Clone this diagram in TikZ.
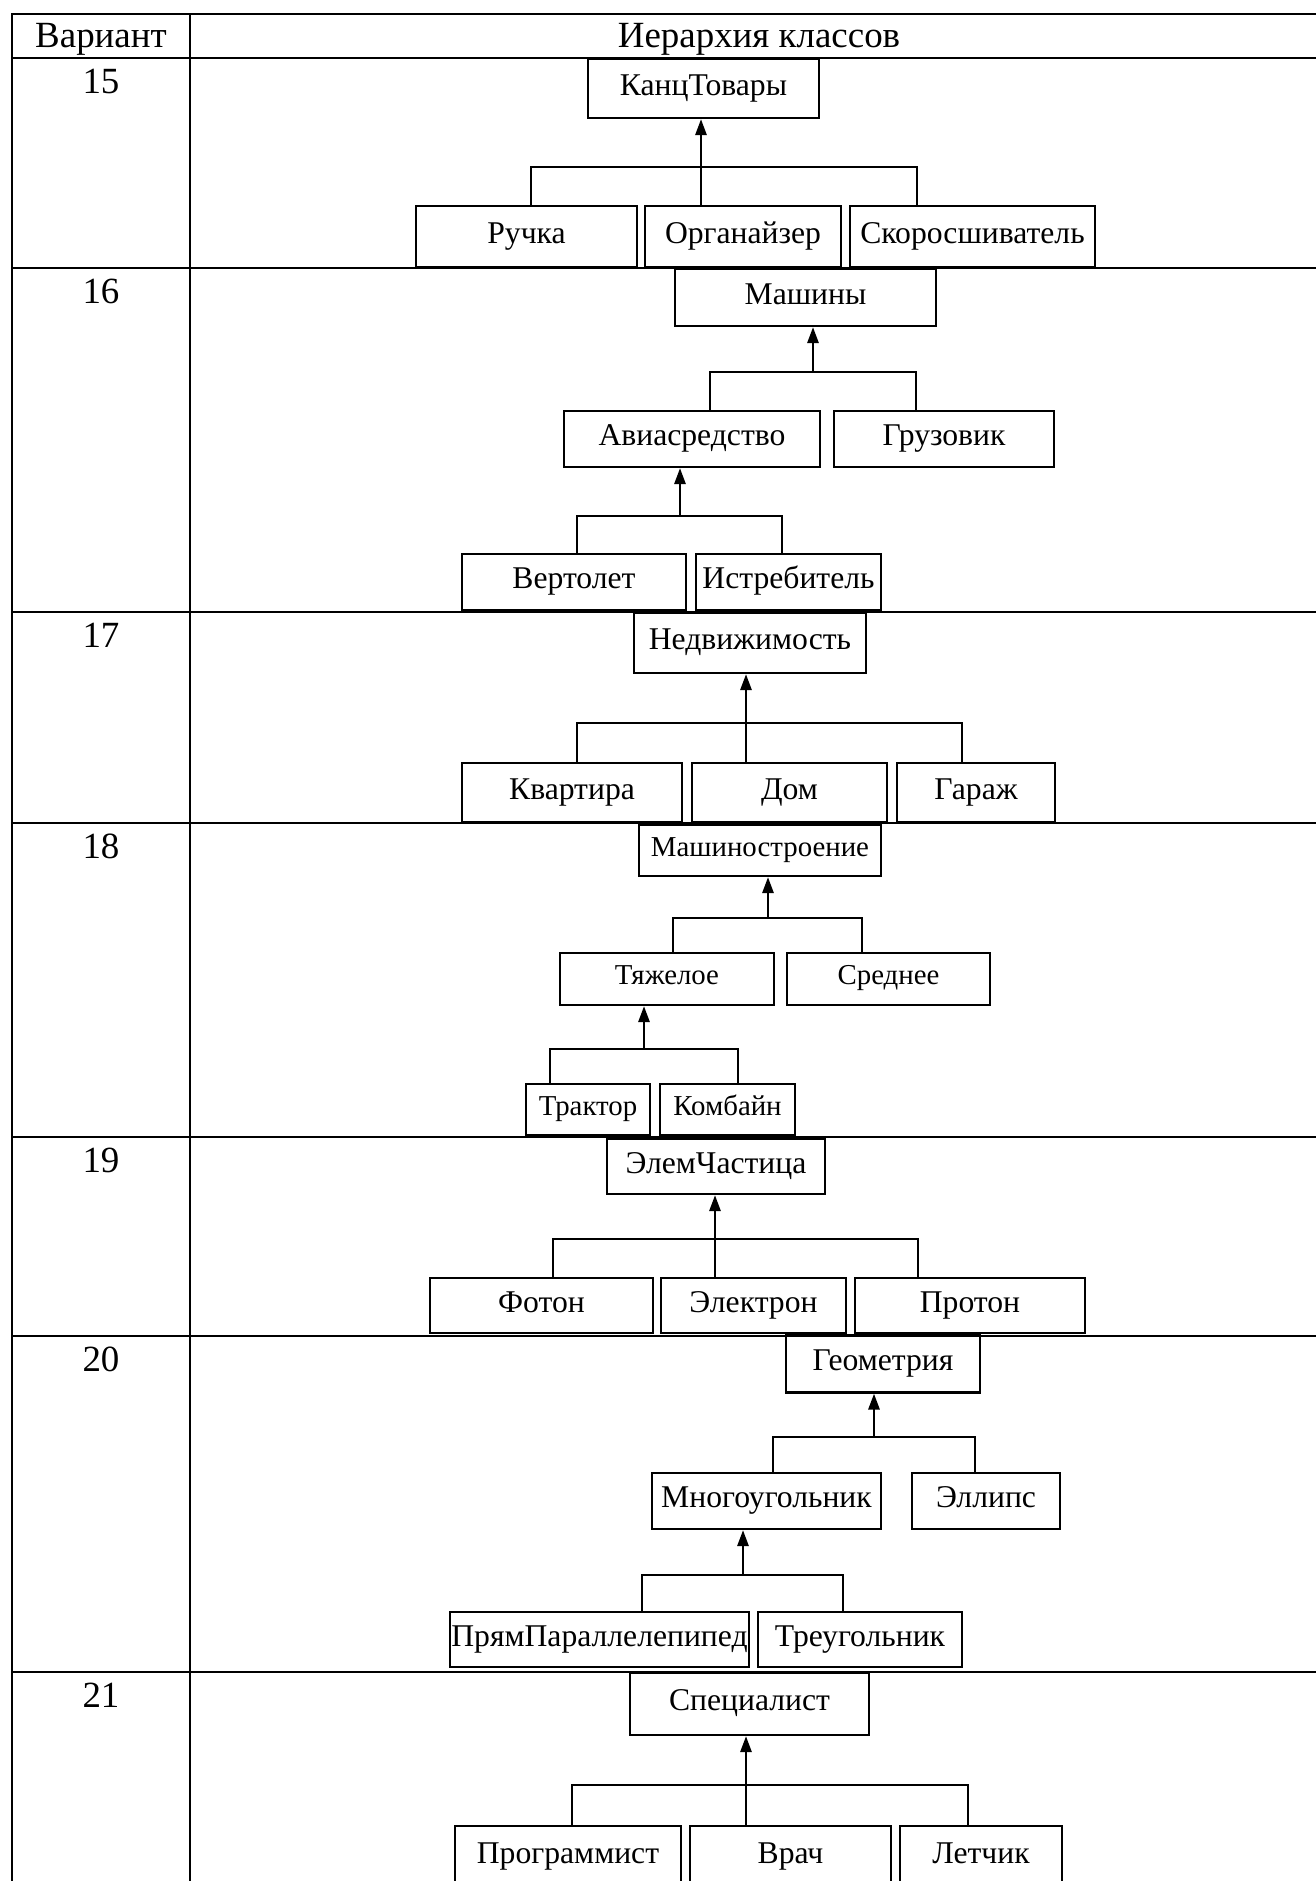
\documentclass[tikz,border=0pt]{standalone}
\usepackage{fontspec}
\setmainfont{Liberation Serif}
\usetikzlibrary{arrows.meta}

\begin{document}
\begin{tikzpicture}[x=0.01cm, y=-0.01cm,
    cell/.style={font=\fontsize{10.5}{12}\selectfont, anchor=base, inner sep=0pt},
    cls/.style={draw, line width=0.7pt, inner sep=0pt, text height=6pt, text depth=2.3pt,
        font=\fontsize{9}{10}\selectfont},
    link/.style={line width=0.6pt},
    inh/.style={line width=0.6pt, -{Triangle[length=4.5pt,width=3.2pt]}}]
    \clip (0,0) rectangle (1316,1881);
    \fill[white] (0,0) rectangle (1316,1881);

    % table
    \draw[line width=0.8pt] (1316,14) -- (12,14) -- (12,1881);
    \draw[line width=0.8pt] (190,14) -- (190,1881);
    \foreach \y in {58,268,612,823,1137,1336,1672}
        \draw[line width=0.8pt] (12,\y) -- (1316,\y);
    \node[cell] (hvar) at (101,47) {Вариант};
    \node[cell] (hier) at (759,47) {Иерархия классов};
    \foreach \n/\y in {15/58,16/268,17/612,18/823,19/1137,20/1336,21/1672}
        \node[cell] (v\n) at (101,\y+35) {\n};

    % 15
    \node[cls, minimum width=2.31cm, minimum height=0.59cm] (kanc) at (703.5,88.5) {КанцТовары};
    \node[cls, minimum width=2.21cm, minimum height=0.61cm] (ruchka) at (526.5,236.5) {Ручка};
    \node[cls, minimum width=1.96cm, minimum height=0.61cm] (org) at (743,236.5) {Органайзер};
    \node[cls, minimum width=2.45cm, minimum height=0.61cm] (skoro) at (972.5,236.5) {Скоросшиватель};
    \coordinate (b15l) at (531,167);
    \coordinate (b15r) at (917,167);
    \coordinate (j15) at (701,167);
    \draw[link] (ruchka.north -| b15l) -- (b15l) -- (b15r) -- (skoro.north -| b15r);
    \draw[inh] (org.north -| j15) -- (kanc.south -| j15);

    % 16
    \node[cls, minimum width=2.61cm, minimum height=0.57cm] (mash) at (805.5,297.5) {Машины};
    \node[cls, minimum width=2.56cm, minimum height=0.56cm] (avia) at (692,439) {Авиасредство};
    \node[cls, minimum width=2.20cm, minimum height=0.56cm] (gruz) at (944,439) {Грузовик};
    \node[cls, minimum width=2.24cm, minimum height=0.56cm] (vert) at (574,582) {Вертолет};
    \node[cls, minimum width=1.85cm, minimum height=0.56cm] (istr) at (788.5,582) {Истребитель};
    \coordinate (b16l) at (710,372);
    \coordinate (b16r) at (916,372);
    \coordinate (j16) at (813,372);
    \draw[link] (avia.north -| b16l) -- (b16l) -- (b16r) -- (gruz.north -| b16r);
    \draw[inh] (j16) -- (mash.south -| j16);
    \coordinate (c16l) at (577,516);
    \coordinate (c16r) at (782,516);
    \coordinate (k16) at (680,516);
    \draw[link] (vert.north -| c16l) -- (c16l) -- (c16r) -- (istr.north -| c16r);
    \draw[inh] (k16) -- (avia.south -| k16);

    % 17
    \node[cls, minimum width=2.32cm, minimum height=0.60cm] (nedv) at (750,643) {Недвижимость};
    \node[cls, minimum width=2.20cm, minimum height=0.59cm] (kvar) at (572,792.5) {Квартира};
    \node[cls, minimum width=1.95cm, minimum height=0.59cm] (dom) at (789.5,792.5) {Дом};
    \node[cls, minimum width=1.58cm, minimum height=0.59cm] (garazh) at (976,792.5) {Гараж};
    \coordinate (b17l) at (577,723);
    \coordinate (b17r) at (962,723);
    \coordinate (j17) at (746,723);
    \draw[link] (kvar.north -| b17l) -- (b17l) -- (b17r) -- (garazh.north -| b17r);
    \draw[inh] (dom.north -| j17) -- (nedv.south -| j17);

    % 18
    \begin{scope}[cls/.append style={font=\fontsize{8.2}{9}\selectfont, text height=5.5pt, text depth=2.1pt}]
    \node[cls, minimum width=2.42cm, minimum height=0.51cm] (mstr) at (760,850.5) {Машиностроение};
    \node[cls, minimum width=2.14cm, minimum height=0.52cm] (tyazh) at (667,979) {Тяжелое};
    \node[cls, minimum width=2.03cm, minimum height=0.52cm] (sred) at (888.5,979) {Среднее};
    \node[cls, minimum width=1.24cm, minimum height=0.51cm] (trakt) at (588,1109.5) {Трактор};
    \node[cls, minimum width=1.35cm, minimum height=0.51cm] (komb) at (727.5,1109.5) {Комбайн};
    \end{scope}
    \coordinate (b18l) at (673,918);
    \coordinate (b18r) at (862,918);
    \coordinate (j18) at (768,918);
    \draw[link] (tyazh.north -| b18l) -- (b18l) -- (b18r) -- (sred.north -| b18r);
    \draw[inh] (j18) -- (mstr.south -| j18);
    \coordinate (c18l) at (550,1049);
    \coordinate (c18r) at (738,1049);
    \coordinate (k18) at (644,1049);
    \draw[link] (trakt.north -| c18l) -- (c18l) -- (c18r) -- (komb.north -| c18r);
    \draw[inh] (k18) -- (tyazh.south -| k18);

    % 19
    \node[cls, minimum width=2.18cm, minimum height=0.55cm] (elem) at (716,1166.5) {ЭлемЧастица};
    \node[cls, minimum width=2.23cm, minimum height=0.55cm] (foton) at (541.5,1305.5) {Фотон};
    \node[cls, minimum width=1.85cm, minimum height=0.55cm] (elek) at (753.5,1305.5) {Электрон};
    \node[cls, minimum width=2.30cm, minimum height=0.55cm] (proton) at (970,1305.5) {Протон};
    \coordinate (b19l) at (553,1239);
    \coordinate (b19r) at (918,1239);
    \coordinate (j19) at (715,1239);
    \draw[link] (foton.north -| b19l) -- (b19l) -- (b19r) -- (proton.north -| b19r);
    \draw[inh] (elek.north -| j19) -- (elem.south -| j19);

    % 20
    \node[cls, minimum width=1.94cm, minimum height=0.57cm] (geom) at (883,1364) {Геометрия};
    \node[cls, minimum width=2.29cm, minimum height=0.56cm] (mnog) at (766.5,1501) {Многоугольник};
    \node[cls, minimum width=1.48cm, minimum height=0.56cm] (ellips) at (986,1501) {Эллипс};
    \node[cls, minimum width=2.99cm, minimum height=0.55cm] (pryam) at (599.5,1639.5) {ПрямПараллелепипед};
    \node[cls, minimum width=2.04cm, minimum height=0.55cm] (treug) at (860,1639.5) {Треугольник};
    \coordinate (b20l) at (773,1437);
    \coordinate (b20r) at (975,1437);
    \coordinate (j20) at (874,1437);
    \draw[link] (mnog.north -| b20l) -- (b20l) -- (b20r) -- (ellips.north -| b20r);
    \draw[inh] (j20) -- (geom.south -| j20);
    \coordinate (c20l) at (642,1575);
    \coordinate (c20r) at (843,1575);
    \coordinate (k20) at (743,1575);
    \draw[link] (pryam.north -| c20l) -- (c20l) -- (c20r) -- (treug.north -| c20r);
    \draw[inh] (k20) -- (mnog.south -| k20);

    % 21
    \node[cls, minimum width=2.39cm, minimum height=0.62cm] (spec) at (749.5,1704) {Специалист};
    \node[cls, minimum width=2.26cm, minimum height=0.62cm] (prog) at (568,1857) {Программист};
    \node[cls, minimum width=2.01cm, minimum height=0.62cm] (vrach) at (790.5,1857) {Врач};
    \node[cls, minimum width=1.62cm, minimum height=0.62cm] (letchik) at (981,1857) {Летчик};
    \coordinate (b21l) at (572,1785);
    \coordinate (b21r) at (968,1785);
    \coordinate (j21) at (746,1785);
    \draw[link] (prog.north -| b21l) -- (b21l) -- (b21r) -- (letchik.north -| b21r);
    \draw[inh] (vrach.north -| j21) -- (spec.south -| j21);
\end{tikzpicture}
\end{document}
